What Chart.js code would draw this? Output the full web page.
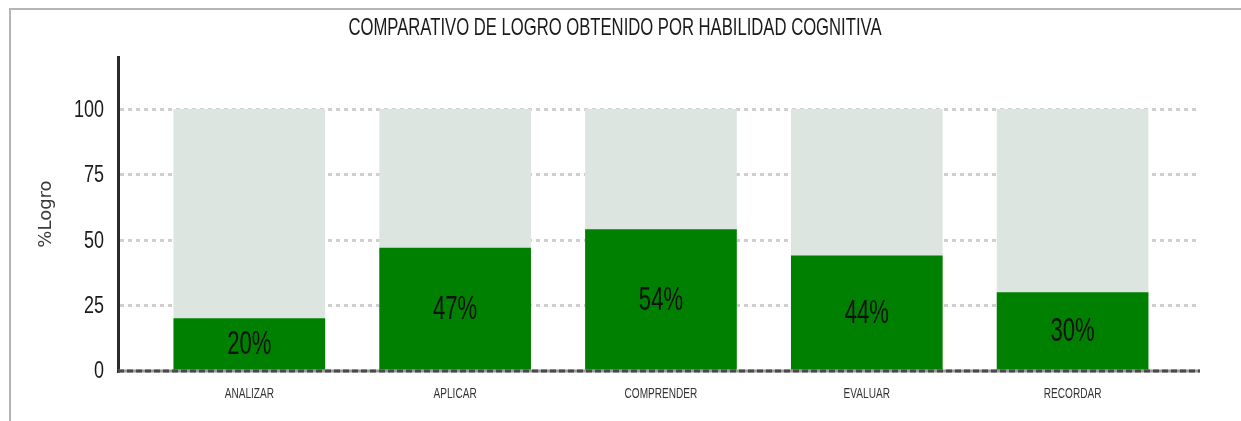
<!DOCTYPE html>
<html>
<head>
<meta charset="utf-8">
<script src="https://cdn.jsdelivr.net/npm/chart.js@4/dist/chart.umd.min.js"></script>
<style>
  html, body { margin: 0; padding: 0; background: #fff; }
  #marco { position: absolute; left: 9px; top: 8px; width: 1240px; height: 420px;
           border-top: 2px solid #b4b4b4; border-left: 2px solid #b4b4b4; }
  #contenedor { position: absolute; left: 0; top: 0; width: 1241px; height: 421px; }
</style>
</head>
<body>
<div id="marco"></div>
<div id="contenedor"><canvas id="grafico"></canvas></div>
<script>
// Datos del grafico
const titulo = "COMPARATIVO DE LOGRO OBTENIDO POR HABILIDAD COGNITIVA";
const categorias = ["ANALIZAR", "APLICAR", "COMPRENDER", "EVALUAR", "RECORDAR"];
const logro = [20, 47, 54, 44, 30];
const fondo = [100, 100, 100, 100, 100];
const ticksY = [0, 25, 50, 75, 100];

const fuente = "'Liberation Sans', Arial, sans-serif";

// Texto angosto: se dibuja con escala horizontal para imitar una fuente condensada
function textoAngosto(ctx, texto, x, y, tam, escala, align, color) {
    ctx.save();
    ctx.font = tam + "px " + fuente;
    ctx.fillStyle = color;
    ctx.textAlign = align;
    ctx.textBaseline = "middle";
    ctx.translate(x, y);
    ctx.scale(escala, 1);
    ctx.fillText(texto, 0, 0);
    ctx.restore();
}

// Titulo, etiquetas de ejes y porcentajes
const textosPlugin = {
    id: "textos",
    afterDatasetsDraw(chart) {
        const ctx = chart.ctx;
        const sx = chart.scales.x;
        const sy = chart.scales.y;

        // titulo ajustado al ancho del original
        ctx.save();
        ctx.font = "24px " + fuente;
        const anchoTitulo = ctx.measureText(titulo).width;
        ctx.restore();
        textoAngosto(ctx, titulo, 615, 28, 24, 533 / anchoTitulo, "center", "#1a1a1a");

        // porcentajes dentro de las barras verdes
        const meta = chart.getDatasetMeta(0);
        meta.data.forEach((bar, i) => {
            const cy = (bar.y + bar.base) / 2;
            textoAngosto(ctx, logro[i] + "%", bar.x, cy + 1, 33, 0.67, "center", "#111");
        });

        // etiquetas del eje y
        ticksY.forEach(v => {
            textoAngosto(ctx, String(v), 104, sy.getPixelForValue(v) + 1, 23, 0.78, "right", "#1a1a1a");
        });

        // etiquetas del eje x
        categorias.forEach((c, i) => {
            textoAngosto(ctx, c, sx.getPixelForValue(i), 394, 14, 0.72, "center", "#333");
        });
    }
};

// Linea de cero punteada oscura encima de las barras
const lineaCeroPlugin = {
    id: "lineaCero",
    afterDatasetsDraw(chart) {
        const ctx = chart.ctx;
        const area = chart.chartArea;
        const y = chart.scales.y.getPixelForValue(0);
        ctx.save();
        ctx.lineWidth = 3;
        ctx.strokeStyle = "#9a9a9a";
        ctx.beginPath();
        ctx.moveTo(area.left, y);
        ctx.lineTo(area.right, y);
        ctx.stroke();
        ctx.setLineDash([6, 3]);
        ctx.strokeStyle = "#4a4a4a";
        ctx.beginPath();
        ctx.moveTo(area.left, y);
        ctx.lineTo(area.right, y);
        ctx.stroke();
        ctx.restore();
    }
};

const grafico = new Chart(document.getElementById("grafico"), {
    type: "bar",
    data: {
        datasets: [
            {
                label: "Logro",
                data: logro.map((v, i) => ({ x: i, y: v })),
                backgroundColor: "#008000",
                order: 1
            },
            {
                label: "Total",
                data: fondo.map((v, i) => ({ x: i, y: v })),
                backgroundColor: "#dce5e0",
                order: 2
            }
        ]
    },
    options: {
        responsive: true,
        maintainAspectRatio: false,
        animation: false,
        layout: { padding: { left: 0, right: 41, top: 57, bottom: 0 } },
        datasets: {
            bar: { grouped: false, barThickness: 151 }
        },
        plugins: {
            legend: { display: false },
            tooltip: { enabled: false },
            title: { display: false }
        },
        scales: {
            x: {
                type: "linear",
                offset: false,
                min: -0.638,
                max: 4.619,
                afterFit: (scale) => { scale.height = 50; },
                grid: { display: false, offset: false },
                border: { display: false },
                ticks: { display: false, stepSize: 1 }
            },
            y: {
                min: 0,
                max: 120,
                afterFit: (scale) => { scale.width = 118; },
                afterBuildTicks: (scale) => { scale.ticks = ticksY.map(v => ({ value: v })); },
                grid: {
                    color: (c) => c.tick && c.tick.value === 0 ? "rgba(0,0,0,0)" : "#cfcfcf",
                    lineWidth: 3,
                    drawTicks: false
                },
                border: { display: true, color: "#2b2b2b", width: 3, dash: [4, 4] },
                ticks: { display: false },
                title: {
                    display: true,
                    text: "%Logro",
                    color: "#3a3a3a",
                    font: { family: "'DejaVu Sans', sans-serif", size: 18 },
                    padding: { top: 36, bottom: 0 }
                }
            }
        }
    },
    plugins: [textosPlugin, lineaCeroPlugin]
});
</script>
</body>
</html>
